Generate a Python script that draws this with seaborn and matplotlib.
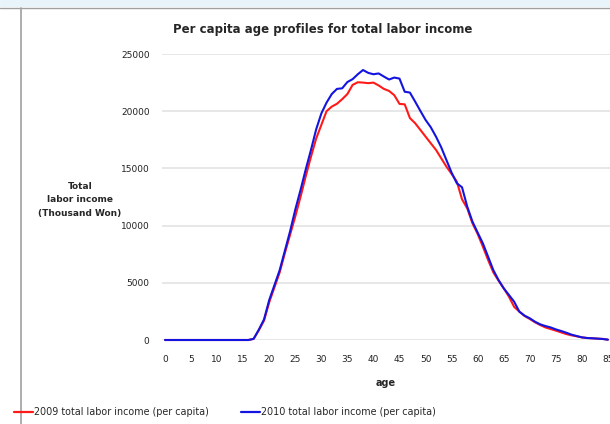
import matplotlib
matplotlib.use("Agg")
import matplotlib.pyplot as plt
from matplotlib.patches import Rectangle
from matplotlib.lines import Line2D
import seaborn as sns
import pandas as pd
import numpy as np

ages = list(range(0, 86))
income_2009 = [0] * 17 + [
    100, 850, 1700, 3300, 4600, 5900, 7600, 9200, 10800, 12500,
    14300, 16000, 17600, 18800, 20000, 20400, 20650, 21050, 21500, 22300,
    22530, 22500, 22450, 22500, 22250, 21950, 21770, 21400, 20640, 20600,
    19400, 18950, 18370, 17780, 17200, 16620, 15890, 15160, 14520, 13850,
    12300, 11510, 10200, 9270, 8160, 7000, 5920, 5190, 4520, 3790,
    2900, 2480, 2100, 1840, 1550, 1310, 1100, 960, 820, 670,
    520, 410, 320, 230, 175, 150, 120, 90, 30]
income_2010 = [0] * 17 + [
    100, 900, 1800, 3500, 4800, 6100, 7800, 9500, 11400, 13100,
    14900, 16600, 18400, 19800, 20750, 21500, 21950, 22000, 22550, 22800,
    23230, 23600, 23350, 23230, 23300, 23030, 22770, 22940, 22850, 21700,
    21630, 20840, 20030, 19240, 18600, 17780, 16850, 15740, 14630, 13700,
    13350, 11660, 10350, 9390, 8450, 7290, 6120, 5250, 4520, 3940,
    3350, 2480, 2130, 1900, 1600, 1370, 1220, 1100, 930, 790,
    640, 470, 350, 230, 175, 150, 120, 90, 30]
series_labels = ["2009 total labor income (per capita)",
                 "2010 total labor income (per capita)"]
x_ticks = list(range(0, 90, 5))
y_ticks = [0, 5000, 10000, 15000, 20000, 25000]

sns.set_style("white")
plt.rcParams['font.family'] = ['DejaVu Sans']

df = pd.DataFrame({
    "age": ages * 2,
    "value": income_2009 + income_2010,
    "series": [series_labels[0]] * len(ages) + [series_labels[1]] * len(ages),
})

fig = plt.figure(figsize=(6.10, 4.24), dpi=100)
ax = fig.add_axes([162 / 610, 1 - 340 / 424, 448 / 610, 286 / 424])

sns.lineplot(data=df, x="age", y="value", hue="series",
             palette={series_labels[0]: "#ff1a1a", series_labels[1]: "#1414e0"},
             linewidth=1.5, ax=ax, legend=False, clip_on=False, zorder=5)

ax.set_xlim(-0.58, 85.4)
ax.set_ylim(0, 25000)
ax.set_yticks(y_ticks)
ax.set_yticklabels([str(v) for v in y_ticks])
ax.set_xticks(x_ticks)
ax.set_xticklabels([str(v) for v in x_ticks])
ax.set_xticks(range(0, 86), minor=True)
for s in ax.spines.values():
    s.set_visible(False)
ax.grid(axis="y", color="#e3e3e3", linewidth=1.2)
ax.grid(axis="x", visible=False)
ax.axhline(0, color="#d8d8d8", linewidth=0.8, zorder=1)
ax.tick_params(axis="x", which="major", length=0, pad=11, labelsize=6.5, colors="#222222")
ax.tick_params(axis="x", which="minor", length=3, width=0.6, color="#cfcfcf", direction="inout")
ax.tick_params(axis="y", length=0, pad=9, labelsize=6.5, colors="#222222")

ax.set_xlabel("age", fontsize=7, fontweight="bold", labelpad=10)
ax.set_ylabel("")
fig.text(80 / 610, 1 - 200 / 424, "Total\nlabor income\n(Thousand Won)",
         ha="center", va="center", fontsize=6.5, fontweight="bold",
         linespacing=1.65)
fig.text(323 / 610, 1 - 30 / 424, "Per capita age profiles for total labor income",
         ha="center", va="center", fontsize=8.5, fontweight="bold")

handles = [Line2D([0], [0], color="#ff1a1a", linewidth=1.6),
           Line2D([0], [0], color="#1414e0", linewidth=1.6)]
fig.legend(handles, series_labels, loc="center left",
           bbox_to_anchor=(14 / 610, 1 - 412 / 424), ncol=2, frameon=False,
           fontsize=6.9, handlelength=2.0, handletextpad=0.1,
           columnspacing=3.3, borderaxespad=0, borderpad=0)

# outer chart frame decoration
fig.add_artist(Rectangle((0, 1 - 7 / 424), 1, 7 / 424, transform=fig.transFigure,
                         facecolor="#e8f3fa", edgecolor="none"))
fig.add_artist(Line2D([0, 1], [1 - 8 / 424, 1 - 8 / 424], transform=fig.transFigure,
                      color="#a0a0a0", linewidth=1.0))
fig.add_artist(Line2D([21 / 610, 21 / 610], [0, 1 - 8 / 424], transform=fig.transFigure,
                      color="#a0a0a0", linewidth=1.2))

fig.savefig("out.png", dpi=100)
